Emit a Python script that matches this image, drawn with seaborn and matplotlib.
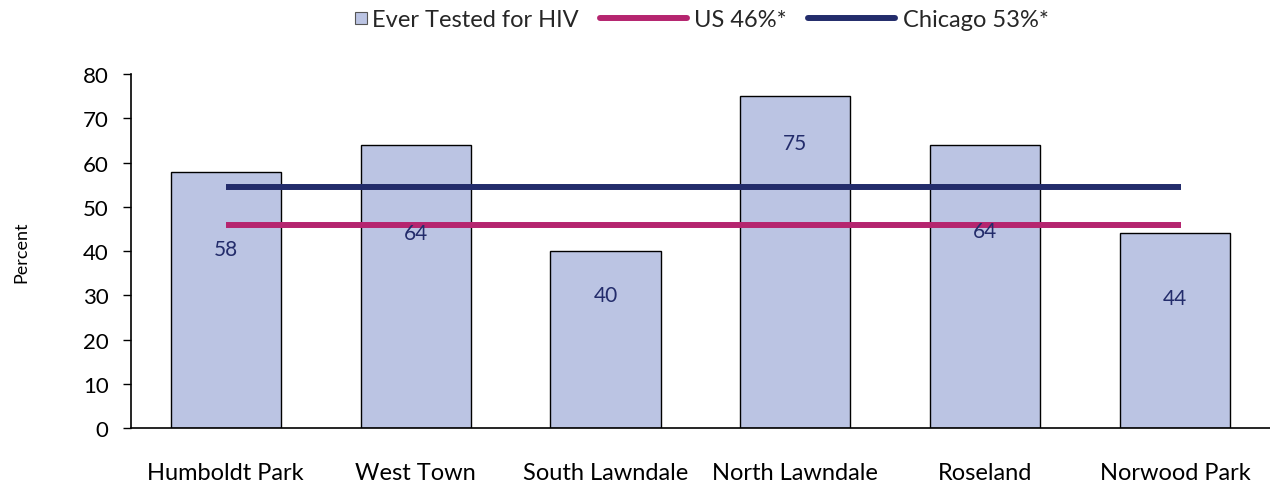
import pandas as pd
import matplotlib
matplotlib.use("Agg")
import matplotlib.pyplot as plt
import seaborn as sns
from matplotlib.patches import Patch, Rectangle
from matplotlib.lines import Line2D
from matplotlib.legend_handler import HandlerPatch

# data
areas = ['Humboldt Park', 'West Town', 'South Lawndale', 'North Lawndale', 'Roseland', 'Norwood Park']
ever_tested = [58, 64, 40, 75, 64, 44]
us_rate = 46
chicago_rate = 54.5
legend_labels = ['Ever Tested for HIV', 'US 46%*', 'Chicago 53%*']

# where the value labels sit (data units), as placed in the original
label_y = [40.5, 44, 30, 64.5, 44.5, 29.5]

bar_color = '#BBC4E3'
us_color = '#B5256F'
chi_color = '#232C6B'

sns.set_theme(style='white')
plt.rcParams['font.family'] = ['Lato', 'DejaVu Sans']

df = pd.DataFrame({'area': areas, 'pct': ever_tested})

fig = plt.figure(figsize=(12.7, 4.85), dpi=100)
ax = fig.add_axes([0.103, 0.115, 0.897, 0.73])

sns.barplot(data=df, x='area', y='pct', color=bar_color, width=0.58,
            edgecolor='black', linewidth=1, saturation=1, ax=ax)

n = len(areas)
ax.hlines(chicago_rate, 0, n - 1 + 0.03, color=chi_color, linewidth=4.3)
ax.hlines(us_rate, 0, n - 1 + 0.03, color=us_color, linewidth=4.3)

for i, (v, y) in enumerate(zip(ever_tested, label_y)):
    ax.text(i, y, str(v), ha='center', va='center', color=chi_color, fontsize=15)

ax.set_xlim(-0.5, n - 0.5)
ax.set_ylim(0, 80)
ax.set_yticks(range(0, 81, 10))
ax.set_xlabel('')
ax.set_ylabel('Percent', fontsize=13, color='black')
ax.yaxis.set_label_coords(-0.089, 0.5)
ax.tick_params(axis='y', left=True, length=6, width=1, color='black', labelsize=16,
               labelcolor='black', pad=10)
ax.tick_params(axis='x', bottom=False, length=0, labelsize=17, labelcolor='black', pad=24)

for side in ['top', 'right']:
    ax.spines[side].set_visible(False)
for side in ['left', 'bottom']:
    ax.spines[side].set_color('black')
    ax.spines[side].set_linewidth(1.2)


# small square at the right end of the handle box, like the original legend
def square_patch(legend, orig_handle, xdescent, ydescent, width, height, fontsize):
    s = 0.5 * fontsize
    return Rectangle((-xdescent + width - s + 1.5, -ydescent + (height - s) / 2), s, s)


handles = [
    Patch(facecolor=bar_color, edgecolor='#555555', linewidth=0.8),
    Line2D([0], [0], color=us_color, linewidth=4.3),
    Line2D([0], [0], color=chi_color, linewidth=4.3),
]
fig.legend(handles, legend_labels, loc='center', bbox_to_anchor=(0.522, 0.957),
           ncol=3, frameon=False, fontsize=17, handlelength=3.7, handletextpad=0.3,
           columnspacing=0.9, borderpad=0,
           handler_map={Patch: HandlerPatch(patch_func=square_patch)})

fig.savefig('out.png', dpi=100)
